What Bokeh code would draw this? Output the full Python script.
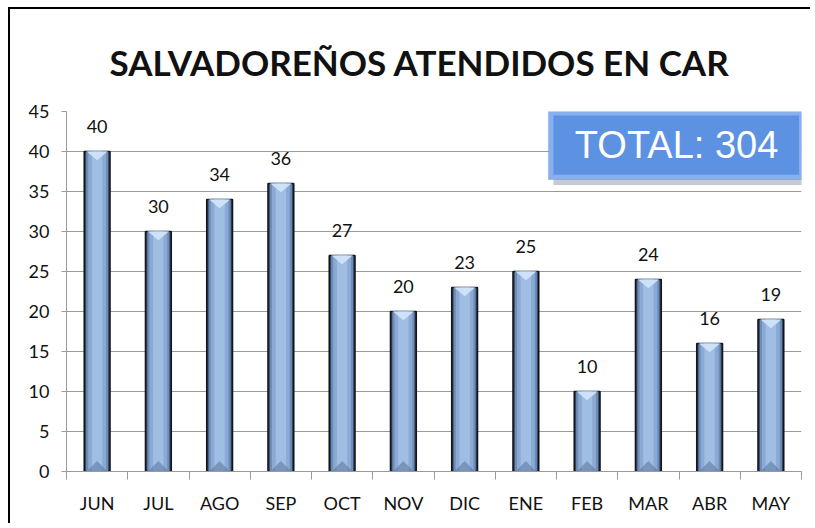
from bokeh.plotting import figure
from bokeh.models import ColumnDataSource, FixedTicker, LabelSet, Label, BoxAnnotation, Range1d
from bokeh.core.properties import value
from bokeh.embed import file_html
from bokeh.resources import INLINE

months = ["JUN", "JUL", "AGO", "SEP", "OCT", "NOV", "DIC", "ENE", "FEB", "MAR", "ABR", "MAY"]
counts = [40, 30, 34, 36, 27, 20, 23, 25, 10, 24, 16, 19]
y_ticks = [0, 5, 10, 15, 20, 25, 30, 35, 40, 45]
title_text = "SALVADOREÑOS ATENDIDOS EN CAR"
total_text = "TOTAL: " + str(sum(counts))

n = len(months)
ymax = y_ticks[-1]
xs = [i + 0.5 for i in range(n)]
src = ColumnDataSource(dict(x=xs, top=counts, lab=[str(c) for c in counts]))

# bevel shapes derived from the data
hw = 0.17
top_xs = [[x - hw, x + hw, x] for x in xs]
top_ys = [[c, c, c - 1.1] for c in counts]
bot_xs = [[x - hw, x + hw, x] for x in xs]
bot_ys = [[0, 0, 1.3] for c in counts]

FONT = "Lato"

p = figure(width=802, height=516, output_backend="svg", toolbar_location=None,
           x_range=Range1d(0, n), y_range=Range1d(0, ymax),
           min_border_left=56, min_border_right=11, min_border_bottom=54, min_border_top=102)
p.styles = {"border-left": "2px solid black", "border-top": "2px solid black",
            "margin-left": "8px", "margin-top": "7px"}
p.title.text = title_text
p.title.align = "left"
p.title.text_font = FONT
p.title.text_font_style = "bold"
p.title.text_font_size = "35px"
p.title.text_color = "#111111"
p.title.offset = 43
p.title.standoff = 58

p.outline_line_color = None
p.background_fill_color = "white"
p.border_fill_color = "white"

# grid
p.xgrid.grid_line_color = None
p.ygrid.grid_line_color = "#9a9a9a"
p.ygrid.grid_line_width = 1
p.ygrid.ticker = FixedTicker(ticks=y_ticks)

# y axis
p.yaxis.ticker = FixedTicker(ticks=y_ticks)
p.yaxis.axis_line_color = "#9a9a9a"
p.yaxis.major_tick_line_color = "#9a9a9a"
p.yaxis.major_tick_out = 5
p.yaxis.major_tick_in = 0
p.yaxis.minor_tick_line_color = None
p.yaxis.major_label_text_font = FONT
p.yaxis.major_label_text_font_size = "18px"
p.yaxis.major_label_text_color = "#111111"
p.yaxis.major_label_standoff = 12

# x axis: labels at centres, ticks at boundaries
p.xaxis.ticker = FixedTicker(ticks=xs, minor_ticks=list(range(n + 1)))
p.xaxis.major_label_overrides = {x: m for x, m in zip(xs, months)}
p.xaxis.axis_line_color = "#9a9a9a"
p.xaxis.major_tick_line_color = None
p.xaxis.major_tick_out = 0
p.xaxis.major_tick_in = 0
p.xaxis.minor_tick_line_color = "#9a9a9a"
p.xaxis.minor_tick_out = 8
p.xaxis.minor_tick_in = 0
p.xaxis.major_label_text_font = FONT
p.xaxis.major_label_text_font_size = "18px"
p.xaxis.major_label_text_color = "#111111"
p.xaxis.major_label_standoff = 12

# bevelled bars (layered)
p.vbar(x="x", top="top", width=0.42, bottom=0, source=src,
       fill_color="#34496a", line_color="#151515", line_width=1.6)
p.vbar(x="x", top="top", width=0.36, bottom=0, source=src,
       fill_color="#6d8db8", line_color=None)
p.vbar(x="x", top="top", width=0.29, bottom=0, source=src,
       fill_color="#8aa9d3", line_color=None)
p.vbar(x="x", top="top", width=0.17, bottom=0, source=src,
       fill_color="#a0bee4", line_color=None)
p.patches(top_xs, top_ys, fill_color="#cde1f8", line_color=None)
p.patches(bot_xs, bot_ys, fill_color="#5d7aa3", fill_alpha=0.6, line_color=None)

labels = LabelSet(x="x", y="top", text="lab", source=src, text_align="center",
                  text_baseline="middle", y_offset=25, text_font=value(FONT),
                  text_font_size="18px", text_color="#111111")
p.add_layout(labels)

# TOTAL box
p.add_layout(BoxAnnotation(left=7.95, right=12.1, top=44.6, bottom=35.8,
                           fill_color="#9aa8bb", fill_alpha=0.6, line_color=None))
p.add_layout(BoxAnnotation(left=7.87, right=12.04, top=45.1, bottom=36.5,
                           fill_color="#88b0ee", fill_alpha=1.0, line_color="#4f7cc4", line_width=1))
p.add_layout(BoxAnnotation(left=7.95, right=11.96, top=44.5, bottom=37.1,
                           fill_color="#5d92e2", fill_alpha=1.0, line_color=None))
p.add_layout(Label(x=9.96, y=40.8, text=total_text, text_align="center", text_baseline="middle",
                   text_font="Liberation Sans", text_font_size="38px", text_color="white"))

open("out.html", "w").write(file_html(p, INLINE))
